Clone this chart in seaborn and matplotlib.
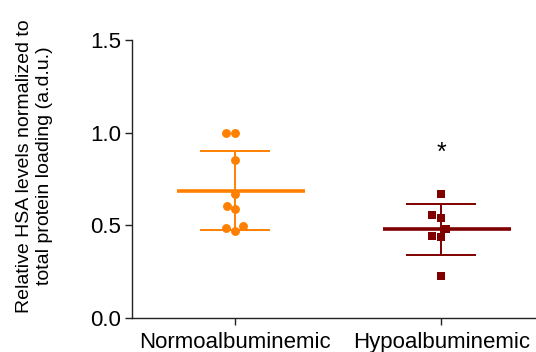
import numpy as np
import pandas as pd
import matplotlib
matplotlib.use("Agg")
import matplotlib.pyplot as plt
import seaborn as sns

categories = ["Normoalbuminemic", "Hypoalbuminemic"]
normo_values = [1.0, 1.0, 0.853, 0.669, 0.606, 0.587, 0.497, 0.471, 0.486]
hypo_values = [0.669, 0.554, 0.538, 0.479, 0.443, 0.437, 0.228]
colors = ["#FF8000", "#800000"]
markers = ["o", "s"]
yticks = [0.0, 0.5, 1.0, 1.5]
ylabel = "Relative HSA levels normalized to\ntotal protein loading (a.d.u.)"

sns.set_style("ticks")
plt.rcParams["font.family"] = ["Liberation Sans", "DejaVu Sans"]
plt.rcParams["text.color"] = "black"
plt.rcParams["axes.labelcolor"] = "black"
plt.rcParams["xtick.color"] = "black"
plt.rcParams["ytick.color"] = "black"

df = pd.DataFrame({
    "group": [categories[0]] * len(normo_values) + [categories[1]] * len(hypo_values),
    "value": normo_values + hypo_values,
})

fig = plt.figure(figsize=(5.36, 3.52), dpi=100)
ax = fig.add_axes([0.2463, 0.0966, 0.7537, 0.7898])

for i, (cat, vals) in enumerate(zip(categories, [normo_values, hypo_values])):
    sub = df[df["group"] == cat]
    sns.swarmplot(data=sub, x="group", y="value", order=categories,
                  color=colors[i], marker=markers[i], size=6.4, linewidth=0, ax=ax)
    m = np.mean(vals)
    sd = np.std(vals, ddof=1)
    ax.errorbar(i, m, yerr=sd, color=colors[i], capsize=25, elinewidth=1.4,
                capthick=1.4, fmt="none", zorder=1)
    ax.hlines(m, i - 0.28, i + 0.34, color=colors[i], linewidth=2.6, zorder=1)

ax.text(1, 0.89, "*", ha="center", va="center", fontsize=18)

ax.set_xlim(-0.5, 1.46)
ax.set_ylim(0, 1.5)
ax.set_yticks(yticks)
ax.set_yticklabels([f"{t:.1f}" for t in yticks])
ax.set_xlabel("")
ax.set_ylabel(ylabel, fontsize=14)
ax.yaxis.set_label_coords(-0.196, 0.547)
ax.tick_params(axis="both", labelsize=16, color="#222222", width=1, length=5)
ax.tick_params(axis="x", pad=5)
ax.tick_params(axis="y", pad=3)
for s in ["top", "right"]:
    ax.spines[s].set_visible(False)
for s in ["left", "bottom"]:
    ax.spines[s].set_color("#222222")
    ax.spines[s].set_linewidth(1)

fig.savefig("out.png", dpi=100)
